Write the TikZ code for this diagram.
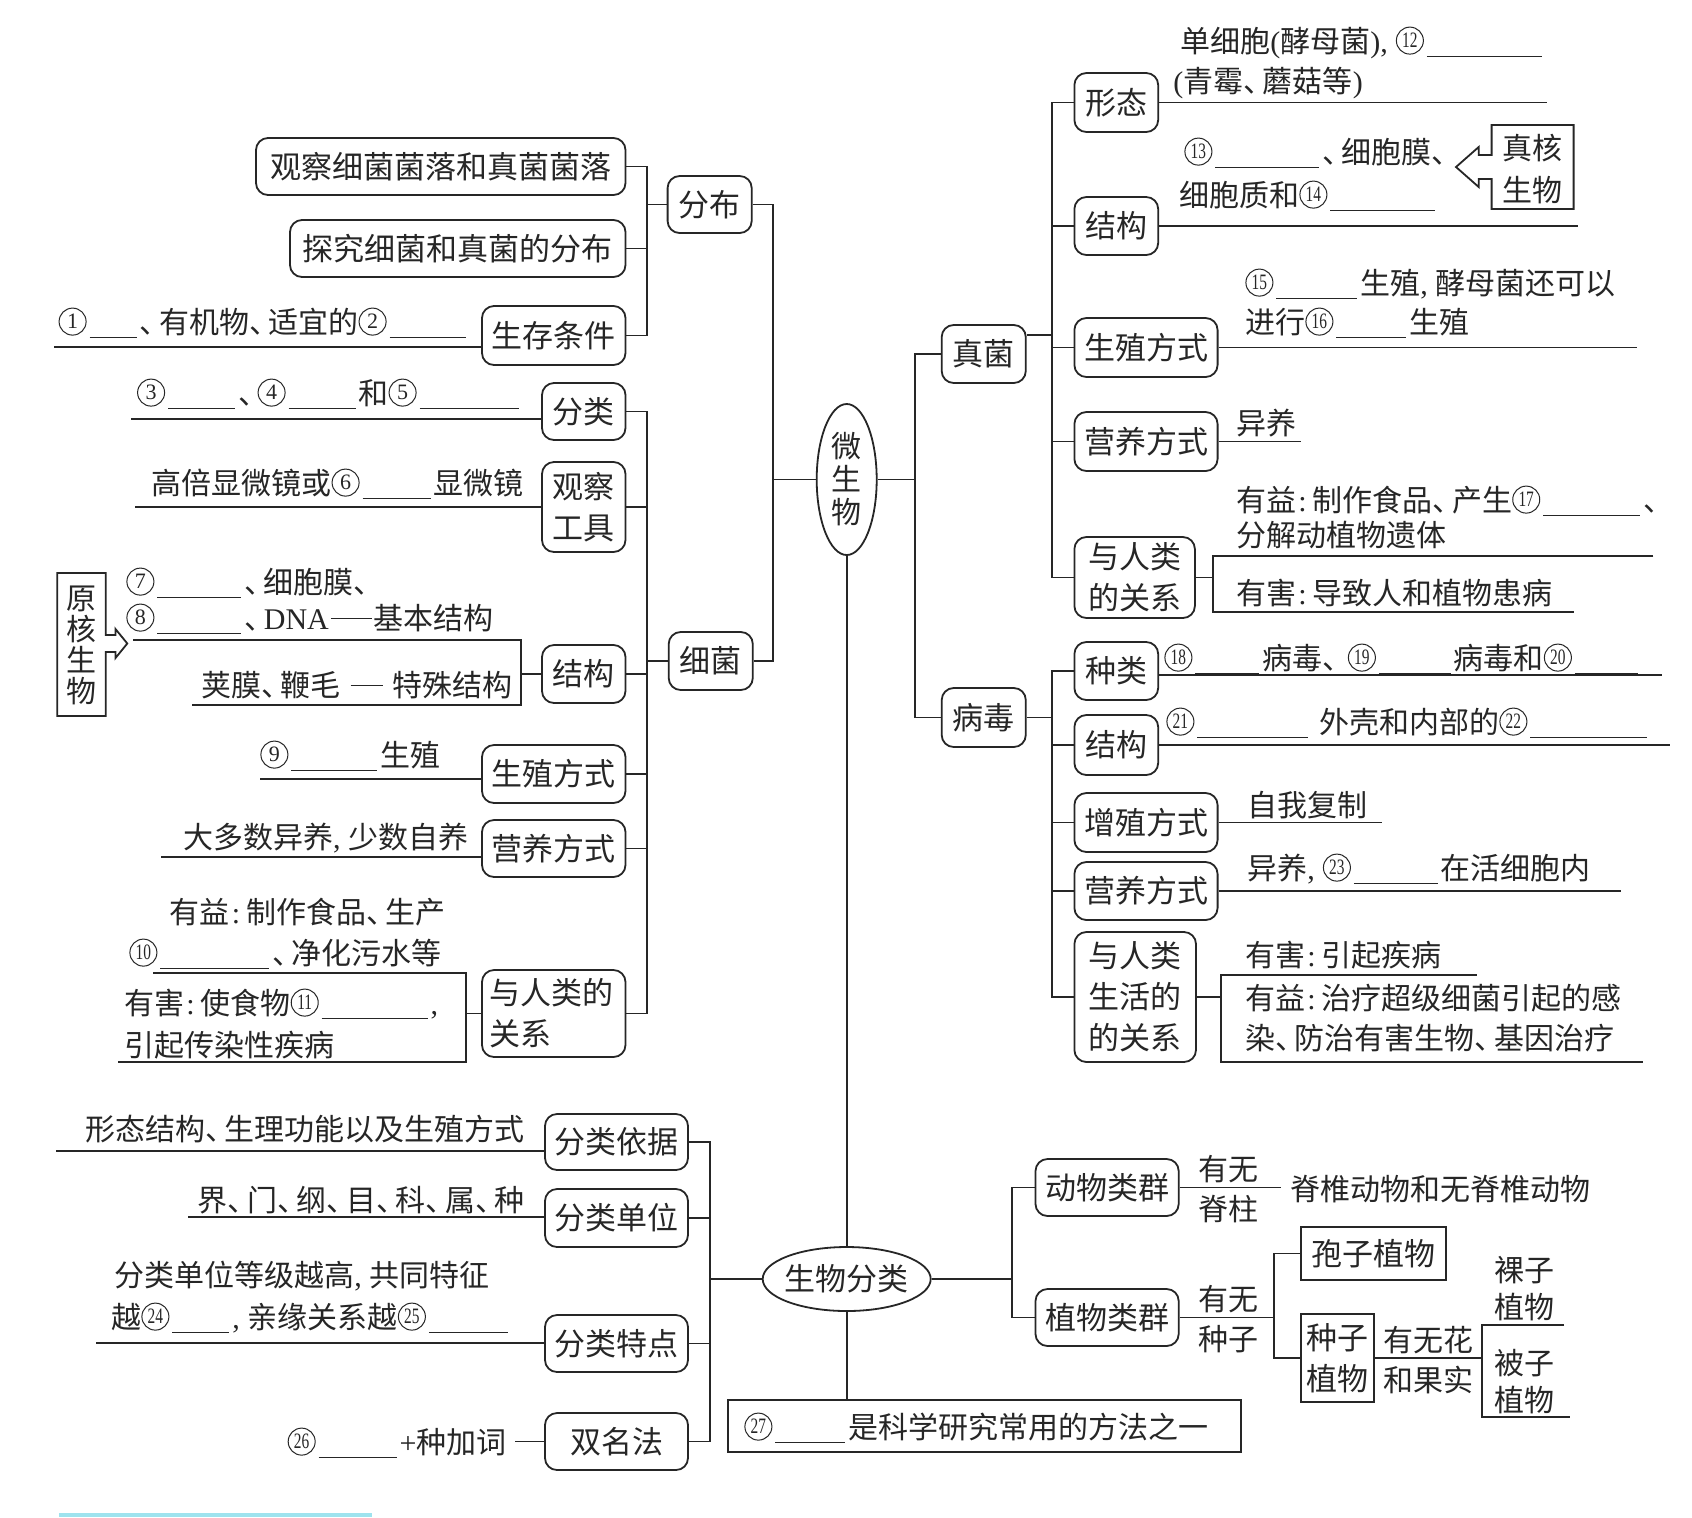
\documentclass[tikz,border=0pt]{standalone}
\usepackage{fontspec}
\usepackage{graphicx}
\setmainfont{Noto Sans CJK SC}
\newfontfamily\numf{Liberation Serif}
\usetikzlibrary{shapes.geometric}
\definecolor{ink}{HTML}{262626}
\definecolor{bar}{HTML}{9EE3EE}
\newcommand\dn{、\kern-0.35em}
\newcommand\bl[1]{\kern1.5pt\rule[-2.5pt]{\dimexpr#1pt/2\relax}{0.6pt}\kern1.5pt}
\newcommand\cn[1]{\tikz[baseline={([yshift=-5.7pt]c.center)}]\node[circle,draw=ink,line width=0.5pt,inner sep=0pt,minimum size=13.5pt,anchor=center,text=ink,font={\numf\fontsize{11}{11}\selectfont}](c){#1};}
\newcommand\cm[1]{\cn{\scalebox{0.7}[1]{#1}}}
\newcommand\cma{{\numf,}\kern4pt}
\newcommand\col{\kern1pt{\numf:}\kern3pt}
\newcommand\dsh[1]{\rule[5pt]{#1}{0.6pt}}
\newcommand\bx[7][box]{\node[#1,minimum width={(#4-#2)*0.5pt},minimum height={(#5-#3)*0.5pt}] (#6) at ({(#2+#4)/2},{(#3+#5)/2}) {#7};}
\begin{document}
\begin{tikzpicture}[x=0.5pt,y=-0.5pt,
  box/.style={draw=ink,line width=0.9pt,rounded corners=6pt,inner sep=0pt,align=center,text=ink,font=\fontsize{15.5}{20.5}\selectfont},
  rbox/.style={box,sharp corners},
  ell/.style={draw=ink,line width=0.9pt,ellipse,inner sep=0pt,align=center,text=ink},
  lt/.style={inner sep=0pt,text=ink,font=\fontsize{15}{20}\selectfont},
  ln/.style={draw=ink,line width=0.9pt}]
\fill[white] (0,0) rectangle (1692,1517);
\useasboundingbox (0,0) rectangle (1692,1517);

% ---------- boxes ----------
\bx{256}{138}{625.5}{195}{gc}{观察细菌菌落和真菌菌落}
\bx{290}{220}{625.5}{277}{tj}{探究细菌和真菌的分布}
\bx{482}{306}{625.5}{365}{sc}{生存条件}
\bx{667.6}{176}{751.7}{233}{fb}{分布}
\bx{668.7}{632}{752.8}{690}{xj}{细菌}
\bx{542}{383}{625.5}{440}{fl}{分类}
\bx{542}{462}{625.5}{552}{gcgj}{观察\\工具}
\bx{542}{645}{625.5}{703}{jg1}{结构}
\bx{482}{745}{625.5}{803}{sz1}{生殖方式}
\bx{482}{820}{625.5}{877}{yy1}{营养方式}
\bx[box,align=left,text width=64pt]{482}{970}{625.5}{1057}{gx1}{与人类的\\关系}

\bx{941.7}{325}{1025.8}{383}{zj}{真菌}
\bx{941.7}{688}{1025.8}{747}{bd}{病毒}
\bx{1074.4}{73}{1158.2}{132}{xt}{形态}
\bx{1074.4}{197}{1158.2}{255}{jg2}{结构}
\bx{1074.4}{318}{1217.6}{377}{sz2}{生殖方式}
\bx{1074.4}{412}{1217.6}{471}{yy2}{营养方式}
\bx{1074.4}{537}{1194.9}{618}{gx2}{与人类\\的关系}
\bx{1074.4}{642}{1158.2}{700}{zl}{种类}
\bx{1074.4}{715}{1158.2}{775}{jg3}{结构}
\bx{1074.4}{793}{1217.6}{852}{zz}{增殖方式}
\bx{1074.4}{862}{1217.6}{920}{yy3}{营养方式}
\bx{1074.4}{932}{1196}{1062}{gx3}{与人类\\生活的\\的关系}

\bx{545}{1114}{688}{1170}{flyj}{分类依据}
\bx{545}{1189}{688}{1247}{fldw}{分类单位}
\bx{545}{1315}{688}{1372}{fltd}{分类特点}
\bx{545}{1413}{688}{1470}{smf}{双名法}
\bx{1035.5}{1159}{1178.7}{1216}{dw}{动物类群}
\bx{1035.5}{1289}{1178.7}{1346}{zw}{植物类群}
\bx[rbox]{1300.6}{1227}{1446.3}{1280}{bz}{孢子植物}
\bx[rbox]{1300.6}{1314}{1374}{1402}{zz2}{种子\\植物}
\bx[rbox]{728}{1400}{1241.3}{1452}{m27}{}

\node[ell,minimum width=30pt,minimum height=75.5pt,font=\fontsize{15}{16.5}\selectfont] (wsw) at (846.7,479.5) {微\\生\\物};
\node[ell,minimum width=84pt,minimum height=32pt,font=\fontsize{15.5}{18}\selectfont] (swfl) at (846.7,1279) {\makebox[0pt]{生物分类}};

% prokaryote / eukaryote arrow boxes
\draw[ln] (105.7,635) -- (105.7,573) -- (57.2,573) -- (57.2,716) -- (105.7,716) -- (105.7,652) -- (115.5,652) -- (115.5,658) -- (127.3,643.5) -- (115.5,629) -- (115.5,635) -- cycle;
\node[lt,align=center,font=\fontsize{15}{15.5}\selectfont] (yh) at (81.5,645) {原\\核\\生\\物};
\draw[ln] (1491.6,155) -- (1491.6,125) -- (1573.6,125) -- (1573.6,209) -- (1491.6,209) -- (1491.6,179) -- (1478.7,179) -- (1478.7,187) -- (1456,167) -- (1478.7,147) -- (1478.7,155) -- cycle;
\node[lt,align=center,font=\fontsize{15}{21}\selectfont] (zh) at (1532.6,169) {真核\\生物};

% ---------- tree connectors ----------
\coordinate (bA) at (647,0);
\draw[ln] (gc.east) -- (gc.east -| bA) -- (sc.east -| bA) -- (sc.east);
\draw[ln] (tj.east) -- (tj.east -| bA);
\draw[ln] (fb.west) -- (fb.west -| bA);
\draw[ln] (fl.east) -- (fl.east -| bA) -- (gx1.east -| bA) -- (gx1.east);
\foreach \n in {gcgj,jg1,sz1,yy1} \draw[ln] (\n.east) -- (\n.east -| bA);
\draw[ln] (xj.west) -- (xj.west -| bA);
\coordinate (bB) at (773.3,0);
\draw[ln] (fb.east) -- (fb.east -| bB) -- (xj.east -| bB) -- (xj.east);
\draw[ln] (wsw.west) -- (wsw.west -| bB);
\coordinate (bC) at (914.7,0);
\draw[ln] (zj.west) -- (zj.west -| bC) -- (bd.west -| bC) -- (bd.west);
\draw[ln] (wsw.east) -- (wsw.east -| bC);
\coordinate (bD) at (1051.7,0);
\draw[ln] (xt.west) -- (xt.west -| bD) -- (gx2.west -| bD) -- (gx2.west);
\foreach \n in {jg2,sz2,yy2} \draw[ln] (\n.west) -- (\n.west -| bD);
\draw[ln] (zj.east |- 0,335) -- (bD |- 0,335);
\draw[ln] (zl.west) -- (zl.west -| bD) -- (gx3.west -| bD) -- (gx3.west);
\foreach \n in {jg3,zz,yy3} \draw[ln] (\n.west) -- (\n.west -| bD);
\draw[ln] (bd.east) -- (bd.east -| bD);
\draw[ln] (wsw.south) -- (swfl.north);
\draw[ln] (swfl.south) -- (swfl.south |- m27.north);
\coordinate (bE) at (709.7,0);
\draw[ln] (flyj.east) -- (flyj.east -| bE) -- (smf.east -| bE) -- (smf.east);
\draw[ln] (fldw.east) -- (fldw.east -| bE);
\draw[ln] (fltd.east) -- (fltd.east -| bE);
\draw[ln] (swfl.west) -- (swfl.west -| bE);
\coordinate (bF) at (1011.8,0);
\draw[ln] (dw.west) -- (dw.west -| bF) -- (zw.west -| bF) -- (zw.west);
\draw[ln] (swfl.east) -- (swfl.east -| bF);
\coordinate (dwe) at (1281.2,0);
\draw[ln] (dw.east) -- (dw.east -| dwe);
\coordinate (bG) at (1273.7,0);
\draw[ln] (zw.east) -- (zw.east -| bG);
\draw[ln] (bz.west) -- (bz.west -| bG) -- (zz2.west -| bG) -- (zz2.west);
\coordinate (bH) at (1481.9,0);
\draw[ln] (zz2.east) -- (zz2.east -| bH);
\draw[ln] (1564,1325) -- (bH |- 0,1325) -- (bH |- 0,1417) -- (1570.4,1417);

% ---------- leaf lines ----------
\draw[ln] (sc.west |- 0,347) -- (54,347);
\draw[ln] (fl.west |- 0,419) -- (131,419);
\draw[ln] (gcgj.west) -- (gcgj.west -| 135,0);
\draw[ln] (133,640) -- (521,640) -- (521,705) -- (192,705);
\draw[ln] (jg1.west) -- (jg1.west -| 521,0);
\draw[ln] (sz1.west |- 0,779) -- (260,779);
\draw[ln] (yy1.west |- 0,857) -- (161,857);
\draw[ln] (153,973) -- (466,973) -- (466,1062) -- (118,1062);
\draw[ln] (gx1.west) -- (gx1.west -| 466,0);
\draw[ln] (flyj.west |- 0,1151) -- (56,1151);
\draw[ln] (fldw.west |- 0,1217) -- (188,1217);
\draw[ln] (fltd.west |- 0,1343) -- (96,1343);
\draw[ln] (smf.west) -- (smf.west -| 515,0);

\draw[ln] (xt.east) -- (xt.east -| 1546.7,0);
\draw[ln] (jg2.east) -- (jg2.east -| 1577.9,0);
\draw[ln] (sz2.east) -- (sz2.east -| 1637.2,0);
\draw[ln] (yy2.east) -- (yy2.east -| 1300.6,0);
\draw[ln] (gx2.east) -- (gx2.east -| 1213.2,0);
\draw[ln] (1653.4,556) -- (1213.2,556) -- (1213.2,612) -- (1573.6,612);
\draw[ln] (zl.east |- 0,675) -- (1662,675);
\draw[ln] (jg3.east) -- (jg3.east -| 1669.7,0);
\draw[ln] (zz.east) -- (zz.east -| 1381.6,0);
\draw[ln] (yy3.east) -- (yy3.east -| 1621,0);
\draw[ln] (gx3.east) -- (gx3.east -| 1220.8,0);
\draw[ln] (1476.5,975) -- (1220.8,975) -- (1220.8,1062) -- (1642.6,1062);

% ---------- texts left ----------
\node[lt,anchor=base east] (t1) at (469,333) {\cn{1}\bl{47}\dn 有机物\dn 适宜的\cn{2}\bl{76}};
\node[lt,anchor=base east] (t2) at (522,404) {\cn{3}\bl{67}\dn\cn{4}\bl{67}和\cn{5}\bl{99}};
\node[lt,anchor=base east] (t3) at (524,494) {高倍显微镜或\cn{6}\bl{68}显微镜};
\node[lt,anchor=base west] (t4) at (126,593) {\cn{7}\bl{84}\dn 细胞膜\dn};
\node[lt,anchor=base west] (t5) at (126,629) {\cn{8}\bl{84}\dn{\numf DNA}\kern1pt\dsh{20.5pt}\kern1pt 基本结构};
\node[lt,anchor=base east] (t6) at (513,696) {荚膜\dn 鞭毛\kern5pt\dsh{16pt}\kern5pt 特殊结构};
\node[lt,anchor=base west] (t7) at (260,766) {\cn{9}\bl{86}生殖};
\node[lt,anchor=base east] (t8) at (469,848) {大多数异养\cma 少数自养};
\node[lt,anchor=base east] (t9) at (446,923) {有益\col 制作食品\dn 生产};
\node[lt,anchor=base west] (t10) at (129,964) {\cm{10}\bl{109}\dn 净化污水等};
\node[lt,anchor=base west] (t11) at (124,1014) {有害\col 使食物\cm{11}\bl{106}{\numf,}};
\node[lt,anchor=base west] (t12) at (124,1056) {引起传染性疾病};
\node[lt,anchor=base east] (t13) at (525,1140) {形态结构\dn 生理功能以及生殖方式};
\node[lt,anchor=base east] (t14) at (525,1211) {界\dn 门\dn 纲\dn 目\dn 科\dn 属\dn 种};
\node[lt,anchor=base west] (t15) at (114,1286) {分类单位等级越高\cma 共同特征};
\node[lt,anchor=base west] (t16) at (111,1328) {越\cm{24}\bl{57}\cma 亲缘关系越\cm{25}\bl{79}};
\node[lt,anchor=base east] (t17) at (507,1453) {\cm{26}\bl{78}{\numf+}种加词};

% ---------- texts right ----------
\node[lt,anchor=base west] (t18) at (1180,52) {单细胞{\numf(}酵母菌{\numf)}\cma\cm{12}\bl{115}};
\node[lt,anchor=base west] (t19) at (1173,92) {{\numf(}青霉\dn 蘑菇等{\numf)}};
\node[lt,anchor=base west] (t20) at (1184,163) {\cm{13}\bl{104}\dn 细胞膜\dn};
\node[lt,anchor=base west] (t21) at (1179,206) {细胞质和\cm{14}\bl{105}};
\node[lt,anchor=base west] (t22) at (1245,294) {\cm{15}\bl{81}生殖\cma 酵母菌还可以};
\node[lt,anchor=base west] (t23) at (1245,333) {进行\cm{16}\bl{70}生殖};
\node[lt,anchor=base west] (t24) at (1236,434) {异养};
\node[lt,anchor=base west] (t25) at (1236,511) {有益\col 制作食品\dn 产生\cm{17}\bl{97}、};
\node[lt,anchor=base west] (t26) at (1236,546) {分解动植物遗体};
\node[lt,anchor=base west] (t27) at (1236,604) {有害\col 导致人和植物患病};
\node[lt,anchor=base west] (t28) at (1164,669) {\cm{18}\bl{64}病毒、\kern-0.15em\cm{19}\bl{72}病毒和\cm{20}\bl{63}};
\node[lt,anchor=base west] (t29) at (1166,733) {\cm{21}\bl{111}\kern4pt 外壳和内部的\cm{22}\bl{117}};
\node[lt,anchor=base west] (t30) at (1247,816) {自我复制};
\node[lt,anchor=base west] (t31) at (1247,879) {异养\cma\cm{23}\bl{84}在活细胞内};
\node[lt,anchor=base west] (t32) at (1245,966) {有害\col 引起疾病};
\node[lt,anchor=base west] (t33) at (1245,1009) {有益\col 治疗超级细菌引起的感};
\node[lt,anchor=base west] (t34) at (1245,1049) {染\dn 防治有害生物\dn 基因治疗};

% ---------- bottom right ----------
\node[lt,anchor=base west] (t35) at (1290,1200) {脊椎动物和无脊椎动物};
\node[lt,align=center] (l1) at (1228,1189) {有无\\脊柱};
\node[lt,align=center] (l2) at (1228,1319) {有无\\种子};
\node[lt,align=center] (l3) at (1428,1360) {有无花\\和果实};
\node[lt,align=center,font=\fontsize{15}{18.5}\selectfont] (l4) at (1524,1288.5) {裸子\\植物};
\node[lt,align=center,font=\fontsize{15}{18.5}\selectfont] (l5) at (1524,1382) {被子\\植物};
\node[lt,anchor=base west] (t36) at (744,1438) {\cm{27}\bl{70}是科学研究常用的方法之一};

\fill[bar] (59,1513) rectangle (372,1517);
\end{tikzpicture}
\end{document}
